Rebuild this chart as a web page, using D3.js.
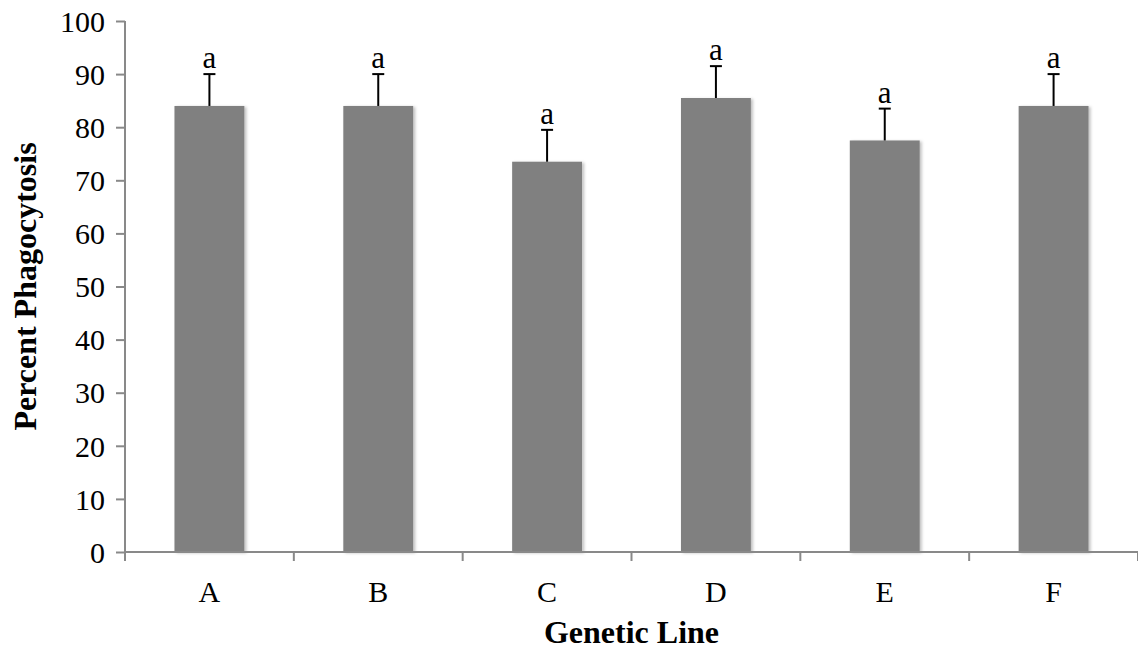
<!DOCTYPE html>
<html>
<head>
<meta charset="utf-8">
<script src="https://cdn.jsdelivr.net/npm/d3@7"></script>
<style>
  body { margin: 0; background: #fff; }
  text { font-family: "Liberation Serif", "Times New Roman", serif; fill: #000; }
</style>
</head>
<body>
<div id="chart"></div>
<script>
const lines = ["A", "B", "C", "D", "E", "F"];
const phagocytosis = [84, 84, 73.5, 85.5, 77.5, 84];
const errors = [6, 6, 6, 6, 6, 6];
const letters = ["a", "a", "a", "a", "a", "a"];
const yTicks = [0, 10, 20, 30, 40, 50, 60, 70, 80, 90, 100];

const data = lines.map((l, i) => ({ line: l, value: phagocytosis[i], err: errors[i], letter: letters[i] }));

const chartWidth = 1138, chartHeight = 651;
const margin = { top: 21, right: 0, bottom: 99, left: 125 };
const width = chartWidth - margin.left - margin.right;
const height = chartHeight - margin.top - margin.bottom;

const $svg = d3.select("#chart").append("svg")
  .attr("width", chartWidth)
  .attr("height", chartHeight);

// soft shadow like the spreadsheet bars
const defs = $svg.append("defs");
defs.append("filter").attr("id", "shadow")
  .attr("x", "-10%").attr("y", "-10%").attr("width", "130%").attr("height", "130%")
  .append("feDropShadow")
  .attr("dx", 2).attr("dy", 1).attr("stdDeviation", 1.5)
  .attr("flood-color", "#000").attr("flood-opacity", 0.25);

const g = $svg.append("g").attr("transform", `translate(${margin.left},${margin.top})`);

const pad = 0.586;
const xScale = d3.scaleBand().domain(lines).range([0, width]).paddingInner(pad).paddingOuter(pad / 2);
const yScale = d3.scaleLinear().domain([0, 100]).range([height, 0]);

// bars
g.selectAll(".bar").data(data).enter().append("rect")
  .attr("class", "bar")
  .attr("x", d => xScale(d.line))
  .attr("y", d => yScale(d.value))
  .attr("width", xScale.bandwidth())
  .attr("height", d => height - yScale(d.value))
  .attr("fill", "#808080")
  .attr("filter", "url(#shadow)");

// y axis
const yAxis = g.append("g")
  .call(d3.axisLeft(yScale).tickValues(yTicks).tickSize(9).tickPadding(11).tickFormat(d3.format("d")));
yAxis.select(".domain").attr("stroke", "#898989").attr("stroke-width", 2).attr("d", `M0,0V${height}`);
yAxis.selectAll(".tick line").attr("stroke", "#898989").attr("stroke-width", 2);
yAxis.selectAll(".tick text").style("font-size", "30px").attr("dy", "0.34em");

// x axis: ticks sit between categories
const step = xScale.step();
const xAxis = g.append("g").attr("transform", `translate(0,${height})`);
xAxis.append("line")
  .attr("x1", 0).attr("x2", width)
  .attr("stroke", "#898989").attr("stroke-width", 2);
const boundaries = lines.map(l => xScale(l) - step * pad / 2).concat([width]);
xAxis.selectAll(".xtick").data(boundaries).enter().append("line")
  .attr("x1", d => d).attr("x2", d => d)
  .attr("y1", 0).attr("y2", 9)
  .attr("stroke", "#898989").attr("stroke-width", 2);
xAxis.selectAll(".xlabel").data(lines).enter().append("text")
  .attr("x", d => xScale(d) + xScale.bandwidth() / 2)
  .attr("y", 50)
  .attr("text-anchor", "middle")
  .style("font-size", "30px")
  .text(d => d);

// error bars
const errG = g.selectAll(".err").data(data).enter().append("g");
errG.append("line")
  .attr("x1", d => xScale(d.line) + xScale.bandwidth() / 2)
  .attr("x2", d => xScale(d.line) + xScale.bandwidth() / 2)
  .attr("y1", d => yScale(d.value))
  .attr("y2", d => yScale(d.value + d.err))
  .attr("stroke", "#000").attr("stroke-width", 2);
errG.append("line")
  .attr("x1", d => xScale(d.line) + xScale.bandwidth() / 2 - 6)
  .attr("x2", d => xScale(d.line) + xScale.bandwidth() / 2 + 6)
  .attr("y1", d => yScale(d.value + d.err))
  .attr("y2", d => yScale(d.value + d.err))
  .attr("stroke", "#000").attr("stroke-width", 2);
errG.append("text")
  .attr("x", d => xScale(d.line) + xScale.bandwidth() / 2)
  .attr("y", d => yScale(d.value + d.err) - 6)
  .attr("text-anchor", "middle")
  .style("font-size", "31px")
  .text(d => d.letter);

// axis titles
g.append("text")
  .attr("x", width / 2)
  .attr("y", height + 91)
  .attr("text-anchor", "middle")
  .style("font-size", "32px").style("font-weight", "bold")
  .text("Genetic Line");

g.append("text")
  .attr("transform", "rotate(-90)")
  .attr("x", -height / 2)
  .attr("y", -89)
  .attr("text-anchor", "middle")
  .style("font-size", "32px").style("font-weight", "bold")
  .text("Percent Phagocytosis");
</script>
</body>
</html>
